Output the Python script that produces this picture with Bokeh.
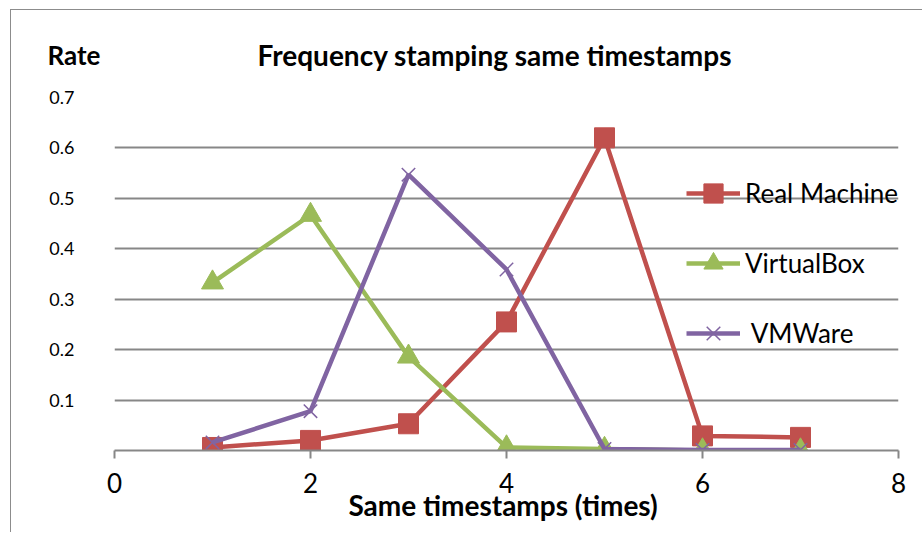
from bokeh.plotting import figure
from bokeh.models import (Range1d, FixedTicker, Legend, LegendItem, Title)
from bokeh.embed import file_html
from bokeh.resources import INLINE

# ---- data ----
x_vals = [1, 2, 3, 4, 5, 6, 7]
real_machine = [0.006, 0.020, 0.053, 0.255, 0.620, 0.029, 0.026]
virtualbox = [0.333, 0.467, 0.186, 0.006, 0.003, 0.0, 0.0]
vmware = [0.016, 0.078, 0.547, 0.359, 0.003, 0.001, 0.001]
series_names = ["Real Machine", "VirtualBox", " VMWare"]
x_ticks = [0, 2, 4, 6, 8]
y_ticks = [0.1, 0.2, 0.3, 0.4, 0.5, 0.6, 0.7]
title_text = "Frequency stamping same timestamps"
y_title = "Rate"
x_title = "Same  timestamps (times)"

RED = "#C0504D"
GREEN = "#9BBB59"
PURPLE = "#8064A2"
GRID = "#878787"
BORDER = "#8c8c8c"
FONT = "Lato"

p = figure(width=912, height=523, output_backend="svg", toolbar_location=None,
           x_range=Range1d(0, 8), y_range=Range1d(0, 0.7),
           min_border_left=103, min_border_right=25,
           min_border_top=83, min_border_bottom=83)
p.margin = (9, 0, 0, 10)
p.styles = {"border-left": "1px solid " + BORDER, "border-top": "1px solid " + BORDER}
p.outline_line_color = None
p.background_fill_color = "white"
p.border_fill_color = "white"

# "Rate" title (inner row of the top panel)
p.add_layout(Title(text=y_title, text_font=FONT, text_font_size="26px",
                   text_font_style="bold", text_color="black",
                   align="left", offset=-67, standoff=53), "above")

# main title (outer row, pulled down onto the same line)
p.title.text = title_text
p.title.text_font = FONT
p.title.text_font_size = "28px"
p.title.text_font_style = "bold"
p.title.text_color = "black"
p.title.align = "left"
p.title.offset = 143
p.title.standoff = -122

# grid
p.xgrid.visible = False
p.ygrid.ticker = FixedTicker(ticks=y_ticks)
p.ygrid.grid_line_color = GRID
p.ygrid.grid_line_width = 2

# x axis
p.xaxis.ticker = FixedTicker(ticks=x_ticks)
p.xaxis.axis_line_color = GRID
p.xaxis.axis_line_width = 2
p.xaxis.major_tick_line_color = GRID
p.xaxis.major_tick_line_width = 2
p.xaxis.major_tick_out = 8
p.xaxis.major_tick_in = 0
p.xaxis.minor_tick_line_color = None
p.xaxis.major_label_text_font = FONT
p.xaxis.major_label_text_font_size = "26px"
p.xaxis.major_label_text_color = "black"
p.xaxis.major_label_standoff = 14
p.xaxis.axis_label = x_title
p.xaxis.axis_label_text_font = FONT
p.xaxis.axis_label_text_font_size = "28px"
p.xaxis.axis_label_text_font_style = "bold"
p.xaxis.axis_label_text_color = "black"
p.xaxis.axis_label_standoff = -8

# y axis
p.yaxis.ticker = FixedTicker(ticks=y_ticks)
p.yaxis.axis_line_color = None
p.yaxis.major_tick_line_color = None
p.yaxis.minor_tick_line_color = None
p.yaxis.major_label_text_font = FONT
p.yaxis.major_label_text_font_size = "18px"
p.yaxis.major_label_standoff = 34
p.yaxis.major_label_text_color = "black"

# series
r1l = p.line(x_vals, real_machine, line_color=RED, line_width=4.5)
r1m = p.scatter(x_vals, real_machine, marker="square", size=20, fill_color=RED, line_color=RED)
r2l = p.line(x_vals, virtualbox, line_color=GREEN, line_width=4.5)
r2m = p.scatter(x_vals, virtualbox, marker="triangle", size=22, fill_color=GREEN, line_color=GREEN)
r3l = p.line(x_vals, vmware, line_color=PURPLE, line_width=4.5)
r3m = p.scatter(x_vals, vmware, marker="x", size=19, line_color=PURPLE, line_width=1.5)

legend = Legend(items=[
    LegendItem(label=series_names[0], renderers=[r1l, r1m]),
    LegendItem(label=series_names[1], renderers=[r2l, r2m]),
    LegendItem(label=series_names[2], renderers=[r3l, r3m]),
], location=(572, 93), orientation="vertical")
legend.background_fill_alpha = 0
legend.border_line_color = None
legend.padding = 0
legend.margin = 0
legend.glyph_width = 54
legend.glyph_height = 48
legend.label_height = 48
legend.spacing = 22
legend.label_standoff = 5
legend.label_text_font = FONT
legend.label_text_font_size = "26px"
legend.label_text_color = "black"
p.add_layout(legend, "center")

open("out.html", "w").write(file_html(p, INLINE))
